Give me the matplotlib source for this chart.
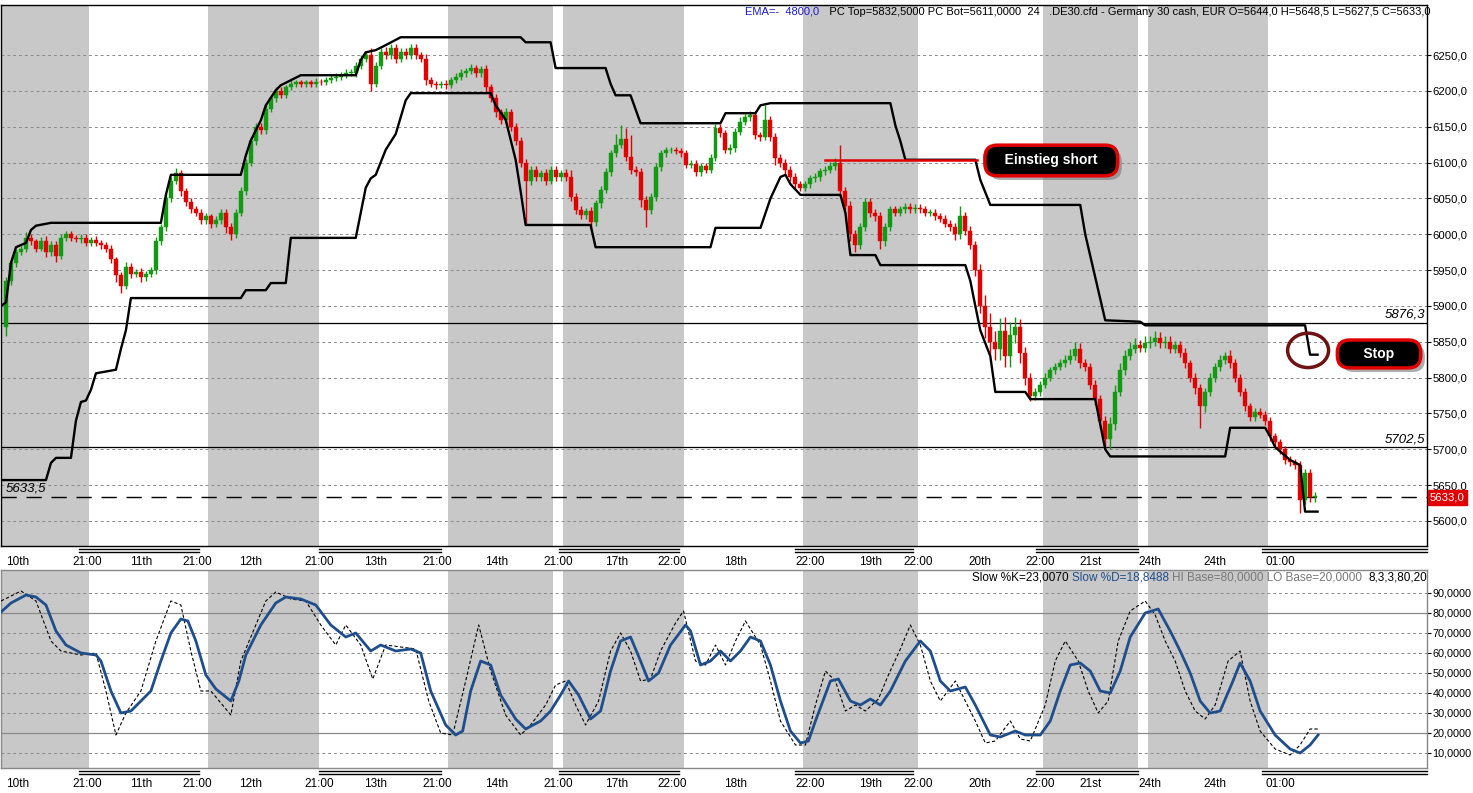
import matplotlib
matplotlib.use("Agg")
import matplotlib.pyplot as plt
import matplotlib.transforms as mtransforms
import matplotlib.patheffects as pe
from matplotlib.patches import Ellipse
import numpy as np

plt.rcParams['font.family'] = ['Liberation Sans', 'DejaVu Sans']

# ---------------- data ----------------
first_open = 5870
closes = [
    5935, 5960, 5975, 5980, 5995, 5990, 5980, 5990, 5975, 5985, 5970, 5995, 6000, 5995, 5993, 5995, 5988, 5992, 5988, 5985,
    5980, 5965, 5943, 5928, 5955, 5945, 5948, 5940, 5945, 5950, 5990, 6010, 6050, 6075, 6085, 6060, 6045, 6035, 6030, 6020,
    6025, 6015, 6020, 6030, 6010, 6000, 6030, 6060, 6100, 6130, 6150, 6145, 6175, 6190, 6200, 6195, 6205, 6210, 6212, 6210,
    6212, 6210, 6213, 6212, 6215, 6218, 6220, 6222, 6225, 6225, 6235, 6245, 6250, 6210, 6235, 6255, 6250, 6260, 6245, 6255,
    6250, 6260, 6250, 6245, 6215, 6210, 6208, 6210, 6208, 6215, 6220, 6225, 6228, 6232, 6225, 6230, 6205, 6190, 6170, 6160,
    6170, 6150, 6130, 6100, 6075, 6090, 6080, 6085, 6075, 6090, 6080, 6085, 6080, 6052, 6034, 6027, 6032, 6017, 6043, 6062,
    6087, 6113, 6125, 6133, 6108, 6090, 6087, 6048, 6034, 6052, 6094, 6113, 6117, 6118, 6116, 6113, 6097, 6098, 6087, 6095,
    6090, 6107, 6148, 6141, 6118, 6120, 6143, 6157, 6163, 6166, 6138, 6136, 6160, 6136, 6107, 6100, 6090, 6080, 6070, 6065,
    6070, 6078, 6080, 6088, 6090, 6095, 6100, 6060, 6040, 6000, 5985, 6010, 6045, 6030, 6025, 5990, 6010, 6035, 6030, 6035,
    6038, 6035, 6037, 6035, 6030, 6030, 6025, 6022, 6015, 6010, 6000, 6025, 6005, 5985, 5950, 5900, 5870, 5850, 5840, 5865,
    5830, 5860, 5870, 5835, 5800, 5775, 5780, 5790, 5800, 5810, 5815, 5820, 5825, 5830, 5840, 5820, 5815, 5790, 5770, 5740,
    5715, 5735, 5780, 5810, 5830, 5840, 5845, 5842, 5848, 5850, 5855, 5848, 5850, 5840, 5845, 5835, 5820, 5800, 5785, 5760,
    5780, 5800, 5815, 5825, 5830, 5820, 5800, 5780, 5760, 5745, 5752, 5748, 5740, 5718, 5710, 5700, 5685, 5682, 5678, 5629,
    5667, 5633, 5633,
]
wick_up = [
    5, 6, 5, 4, 8, 5, 4, 6, 8, 5, 5, 6, 5, 4, 4, 5, 6, 4, 5, 4,
    4, 5, 4, 5, 6, 5, 4, 5, 4, 5, 6, 5, 6, 5, 8, 5, 4, 5, 4, 5,
    5, 4, 6, 5, 5, 6, 5, 6, 5, 6, 5, 6, 5, 4, 5, 6, 4, 5, 4, 4,
    4, 4, 5, 4, 4, 4, 5, 4, 5, 5, 6, 5, 6, 10, 6, 5, 6, 6, 5, 5,
    5, 6, 5, 5, 6, 5, 4, 4, 5, 4, 5, 5, 4, 5, 4, 5, 6, 5, 6, 5,
    6, 5, 5, 6, 5, 6, 5, 5, 6, 5, 5, 5, 6, 10, 5, 5, 5, 6, 5, 6,
    6, 5, 15, 19, 15, 30, 5, 5, 5, 6, 5, 5, 5, 4, 4, 5, 5, 5, 5, 5,
    5, 5, 6, 6, 5, 6, 5, 6, 5, 6, 6, 5, 20, 5, 5, 5, 5, 5, 5, 5,
    5, 5, 5, 5, 5, 6, 6, 24, 6, 6, 6, 6, 6, 5, 5, 6, 6, 5, 5, 5,
    5, 5, 5, 5, 5, 5, 5, 5, 5, 5, 6, 15, 6, 6, 6, 8, 15, 20, 15, 18,
    20, 18, 15, 12, 8, 6, 6, 5, 6, 5, 5, 6, 6, 10, 10, 8, 6, 6, 6, 6,
    6, 10, 10, 10, 8, 10, 10, 8, 10, 8, 10, 8, 8, 8, 6, 6, 6, 5, 6, 6,
    6, 6, 6, 6, 6, 8, 6, 5, 6, 5, 5, 5, 5, 5, 5, 5, 5, 5, 5, 5,
    6, 5, 8,
]
wick_dn = [
    12, 6, 5, 4, 5, 5, 5, 4, 6, 5, 8, 4, 5, 4, 4, 5, 4, 5, 5, 6,
    5, 5, 10, 10, 5, 6, 5, 6, 5, 5, 5, 5, 6, 5, 5, 6, 5, 5, 5, 5,
    5, 6, 5, 5, 8, 8, 5, 5, 5, 5, 6, 5, 5, 5, 5, 5, 5, 4, 4, 5,
    4, 4, 4, 4, 4, 4, 4, 4, 4, 4, 5, 5, 5, 10, 5, 5, 5, 5, 6, 5,
    5, 5, 6, 5, 6, 5, 5, 4, 5, 4, 4, 4, 5, 4, 5, 5, 6, 5, 6, 6,
    6, 6, 6, 6, 60, 6, 6, 5, 6, 5, 5, 5, 6, 6, 6, 6, 5, 10, 6, 6,
    5, 5, 5, 5, 6, 6, 6, 10, 24, 6, 5, 5, 5, 4, 4, 5, 5, 5, 5, 5,
    5, 5, 5, 5, 5, 6, 5, 5, 5, 5, 5, 6, 5, 6, 10, 6, 6, 5, 5, 5,
    5, 5, 5, 5, 5, 5, 5, 6, 6, 10, 10, 6, 6, 6, 6, 10, 6, 5, 5, 5,
    5, 5, 5, 5, 5, 5, 5, 5, 5, 5, 8, 6, 6, 6, 8, 10, 15, 18, 15, 15,
    15, 15, 12, 15, 10, 8, 6, 5, 5, 5, 5, 5, 5, 6, 6, 6, 6, 6, 8, 10,
    15, 15, 8, 6, 6, 6, 6, 6, 6, 6, 6, 6, 6, 6, 6, 6, 6, 6, 8, 30,
    8, 6, 6, 6, 6, 6, 6, 6, 6, 6, 5, 5, 6, 6, 6, 6, 6, 6, 6, 18,
    5, 6, 6,
]

# price channel (24) upper / lower, keyframes (bar index, price)
pc_top_idx = [-1, 0, 1, 2, 4, 5, 6, 9, 31, 32, 33, 47, 48, 49, 51, 52, 54, 55, 57, 59, 70, 71, 72, 74, 76, 79,
              103, 104, 109, 110, 120, 121, 122, 125, 127, 143, 144, 150, 151, 153, 177, 178, 179, 180, 194, 195,
              197, 215, 216, 218, 220, 227, 228, 260, 261, 262.5]
pc_top_val = [5900, 5905, 5960, 5982, 5988, 6006, 6012, 6016, 6016, 6055, 6083, 6083, 6110, 6131, 6159, 6180, 6201,
              6208, 6215, 6222, 6222, 6243, 6254, 6257, 6264, 6275, 6275, 6268, 6268, 6232, 6232, 6210, 6194, 6194,
              6155, 6155, 6169, 6169, 6180, 6183, 6183, 6152, 6130, 6104, 6104, 6076, 6041, 6041, 6000, 5940, 5880,
              5878, 5873, 5873, 5832, 5832]
pc_bot_idx = [-1, 8, 9, 10, 13, 14, 15, 16, 17, 18, 22, 23, 24, 25, 47, 48, 52, 53, 56, 57, 70, 71, 72, 73, 74, 76,
              78, 80, 81, 97, 98, 100, 102, 103, 104, 117, 118, 141, 142, 151, 153, 155, 156, 157, 159, 167, 168,
              169, 174, 175, 192, 193, 194, 195, 197, 198, 204, 205, 218, 219, 220, 221, 244, 245, 252, 253, 254,
              257, 259, 260, 262.5]
pc_bot_val = [5657, 5657, 5681, 5688, 5688, 5740, 5766, 5768, 5783, 5806, 5811, 5840, 5866, 5911, 5911, 5922, 5922,
              5932, 5932, 5995, 5995, 6030, 6065, 6078, 6083, 6118, 6140, 6187, 6197, 6197, 6180, 6160, 6104, 6060,
              6013, 6013, 5982, 5982, 6009, 6009, 6050, 6080, 6083, 6070, 6055, 6055, 6030, 5971, 5971, 5957, 5957,
              5935, 5900, 5866, 5830, 5780, 5780, 5770, 5770, 5735, 5700, 5690, 5690, 5730, 5730, 5718, 5703, 5685,
              5678, 5613, 5613]

# slow stochastic
stoch_d_idx = [-1, 1, 4, 6, 8, 10, 12, 15, 18, 19, 21, 23, 25, 27, 29, 31, 33, 35, 36.4, 38, 40, 42, 45, 46.6, 48,
               51, 54, 56, 59, 62, 65, 68, 70, 73, 75, 78, 81, 83, 85, 88, 90, 91.4, 93, 95, 97, 99, 102, 104, 107,
               109, 111, 112.6, 114.6, 117, 119, 121, 123, 125, 127, 128.6, 130.6, 133, 136, 137, 139, 141, 143, 145,
               147, 149, 151, 153, 155, 157, 159, 160.6, 162, 165, 166.6, 169, 171, 173, 175, 177, 180, 183, 185, 187,
               189, 192, 194, 197, 199, 202, 204, 207, 209, 211, 213, 215, 217, 219, 221, 223, 225, 228, 230.6, 233,
               235, 237, 239, 241, 243, 245.4, 247, 249, 251, 254, 257, 259, 261, 262.6]
stoch_d_val = [80.5, 85, 89, 88, 84, 71, 64, 60, 59, 56, 41, 30, 31, 36, 41, 56, 70, 77, 76, 66, 49, 42, 36, 46, 59,
               74, 85, 88, 87, 84, 74, 68, 70, 61, 64, 61, 62, 60, 41, 24, 19, 21, 41, 56, 54, 39, 27, 22, 26, 31, 39,
               46, 39, 27, 31, 51, 66, 68, 56, 46, 50, 64, 74, 71, 54, 56, 61, 56, 61, 68, 66, 54, 36, 21, 15, 16, 26,
               46, 47, 36, 34, 37, 34, 41, 56, 66, 61, 46, 41, 43, 34, 19, 18, 21, 19, 19, 26, 41, 54, 55, 51, 41, 40,
               51, 68, 80, 82, 71, 61, 50, 36, 30, 31, 45, 55, 46, 31, 19, 12, 10, 14, 19]
stoch_k_idx = [-1, 3, 6, 9, 11, 15, 18, 20, 22, 24, 27, 30, 33, 35, 37, 39, 41, 45, 47, 50, 52, 54, 57, 60, 63, 66,
               68, 71, 73.4, 76, 79, 82, 84.6, 87, 89.4, 92, 94.6, 97, 100, 103, 105, 108, 110, 112, 114, 116, 118.6,
               121, 123, 125, 127, 129, 131, 134, 135.6, 138, 140, 142, 144, 146, 148, 151, 153, 155, 158, 160, 162,
               164, 166, 168, 170, 172, 174.6, 176.6, 179, 181, 183, 185, 187, 190, 192, 194, 196, 198, 201, 203, 205,
               208, 210, 212, 214.6, 216.6, 218.6, 220.6, 222.6, 225, 228, 230, 232, 234, 236, 238, 240, 242, 244.6,
               247, 249, 251, 254, 257, 259, 261, 262.6]
stoch_k_val = [86, 91, 86, 66, 61, 59, 60, 41, 19, 30, 41, 66, 86, 84, 61, 41, 41, 29, 56, 74, 86, 90.5, 87, 86, 74,
               64, 74, 64, 47, 64, 63, 62, 36, 20, 19, 46, 74, 51, 29, 19, 24, 34, 44, 46, 34, 24, 36, 61, 70, 61, 46,
               47, 61, 75, 81, 56, 54, 64, 54, 66, 76, 64, 46, 26, 14, 14, 34, 51, 46, 31, 34, 31, 37, 49, 62, 74, 64,
               46, 36, 46, 36, 26, 15, 16, 26, 17, 16, 34, 56, 66, 56, 41, 30, 36, 66, 81, 86, 79, 66, 56, 41, 31, 27,
               34, 56, 61, 36, 21, 12, 9, 14, 22, 22]

# sessions (shaded) and axis markers, in bar index units
session_start = [-1, 40.4, 88.4, 111.4, 159.6, 207.6, 228.6]
session_end = [16.6, 62.6, 109.4, 135.6, 182.6, 226.6, 252.6]
marker_start = [14.6, 62.6, 110.6, 158.0, 206.2, 251.4]
marker_end = [38.6, 87.0, 134.6, 181.6, 226.6, 284.4]

xtick_idx = [2.4, 16.2, 27, 38.2, 49, 62.6, 74, 86.4, 98.2, 110.6, 122.2, 133.4, 146, 161, 173, 182.6, 195, 207,
             217, 229, 242, 255]
xtick_lab = ['10th', '21:00', '11th', '21:00', '12th', '21:00', '13th', '21:00', '14th', '21:00', '17th', '22:00',
             '18th', '22:00', '19th', '22:00', '20th', '22:00', '21st', '24th', '24th', '01:00']

price_ticks = [5600, 5650, 5700, 5750, 5800, 5850, 5900, 5950, 6000, 6050, 6100, 6150, 6200, 6250]
stoch_ticks = [10, 20, 30, 40, 50, 60, 70, 80, 90]

level_hi = 5876.3
level_lo = 5702.5
last_price = 5633.0
pc_start_label = 5633.5
entry_price = 6103
entry_from, entry_to = 164, 194.4
stop_idx, stop_price = 260.6, 5838

header_blue = 'EMA=-  4800,0'
header_black = '   PC Top=5832,5000 PC Bot=5611,0000  24   .DE30.cfd - Germany 30 cash, EUR O=5644,0 H=5648,5 L=5627,5 C=5633,0'
stoch_header = [('Slow %K=23,0070 ', 'black'), ('Slow %D=18,8488 ', '#1f4e8c'),
                ('HI Base=80,0000 LO Base=20,0000  ', '#777777'), ('8,3,3,80,20', 'black')]

# ---------------- figure ----------------
W, H = 1473, 793
fig = plt.figure(figsize=(W / 100, H / 100), dpi=100)
fig.patch.set_facecolor('white')


def rect(x0, y0, x1, y1):
    return [x0 / W, 1 - y1 / H, (x1 - x0) / W, (y1 - y0) / H]


ax1 = fig.add_axes(rect(1, 5, 1427, 546))
ax2 = fig.add_axes(rect(1, 570, 1427, 768))

XL = (-1, 284.4)
GREEN = '#139a13'
RED = '#e00000'
BAND = '#c8c8c8'

for ax in (ax1, ax2):
    ax.set_xlim(*XL)
    for s, e in zip(session_start, session_end):
        ax.axvspan(s, e, color=BAND, lw=0, zorder=0)
    ax.yaxis.tick_right()
    ax.tick_params(axis='y', direction='out', length=3, width=0.8, pad=1, labelsize=8.2)
    ax.set_xticks(xtick_idx)
    ax.set_xticklabels(xtick_lab)
    ax.tick_params(axis='x', length=0, pad=7, labelsize=8.5)
    ax.grid(axis='y', color='#8a8a8a', lw=0.7, ls=(0, (3, 3)), zorder=1)
    ax.set_axisbelow(True)
    trans = mtransforms.blended_transform_factory(ax.transData, ax.transAxes)
    hpx = ax.get_position().height * H
    for s, e in zip(marker_start, marker_end):
        for off in (3, 6):
            ax.plot([s, e], [-off / hpx, -off / hpx], transform=trans, clip_on=False, color='black', lw=1.0)

# ---- main price panel ----
ax1.set_ylim(5565, 6320)
ax1.set_yticks(price_ticks)
ax1.set_yticklabels([f"{v:.1f}".replace('.', ',') for v in price_ticks])
for sp in ax1.spines.values():
    sp.set_color('black')
    sp.set_linewidth(1)

c = np.array(closes, dtype=float)
o = np.concatenate([[first_open], c[:-1]])
idx = np.arange(len(c))
hi = np.maximum(o, c) + np.array(wick_up)
lo = np.minimum(o, c) - np.array(wick_dn)
cols = np.where(c >= o, GREEN, RED)
body_lo = np.minimum(o, c)
body_h = np.maximum(np.abs(c - o), 1.2)
ax1.vlines(idx, lo, hi, colors=cols, lw=1.0, zorder=3)
ax1.bar(idx, body_h, bottom=body_lo, width=0.8, color=cols, edgecolor=cols, lw=0.3, zorder=3)

ax1.plot(pc_top_idx, pc_top_val, color='black', lw=1.7, zorder=4)
ax1.plot(pc_bot_idx, pc_bot_val, color='black', lw=1.7, zorder=4)

ax1.axhline(level_hi, color='black', lw=0.9, zorder=2)
ax1.axhline(level_lo, color='black', lw=0.9, zorder=2)
ax1.axhline(last_price, color='black', lw=1.0, ls=(0, (11, 7)), zorder=2)
ax1.text(284.0, level_hi + 3, f"{level_hi:.1f}".replace('.', ','), ha='right', va='bottom', fontsize=9.5, style='italic')
ax1.text(284.0, level_lo + 3, f"{level_lo:.1f}".replace('.', ','), ha='right', va='bottom', fontsize=9.5, style='italic')
ax1.text(0.0, pc_start_label + 4, f"{pc_start_label:.1f}".replace('.', ','), ha='left', va='bottom', fontsize=9.5,
         style='italic')

# last price tag on the axis
ax1.text(1.002, last_price, f"{last_price:.1f}".replace('.', ','),
         transform=mtransforms.blended_transform_factory(ax1.transAxes, ax1.transData),
         ha='left', va='center', fontsize=8.2, color='white',
         bbox=dict(boxstyle='square,pad=0.2', fc=RED, ec=RED), clip_on=False, zorder=6)

# annotations
ax1.plot([entry_from, entry_to], [entry_price, entry_price], color=RED, lw=1.8, zorder=5)
shadow = [pe.withSimplePatchShadow(offset=(3, -3), shadow_rgbFace='#777777', alpha=0.6)]
t1 = ax1.text(209.2, entry_price, '   Einstieg short   ', ha='center', va='center', color='white', fontweight='bold',
              fontsize=10, zorder=7,
              bbox=dict(boxstyle='round,pad=0.6,rounding_size=0.9', fc='black', ec=RED, lw=2.5))
t1.get_bbox_patch().set_path_effects(shadow)
t2 = ax1.text(274.8, 5833, '     Stop     ', ha='center', va='center', color='white', fontweight='bold',
              fontsize=10, zorder=7,
              bbox=dict(boxstyle='round,pad=0.5,rounding_size=0.9', fc='black', ec=RED, lw=2.5))
t2.get_bbox_patch().set_path_effects(shadow)
ax1.add_patch(Ellipse((stop_idx, stop_price), width=8.2, height=48, fill=False, ec='#6e1212', lw=2.5, zorder=7))

# header texts (black part right-aligned, blue part chained to its left)
hdr = fig.text(1430 / W, 1 - 12 / H, header_black, ha='right', va='center', fontsize=8, color='black')
ax1.annotate(header_blue, xy=(0, 0), xycoords=hdr, ha='right', va='bottom', fontsize=8, color='#1a1acc',
             annotation_clip=False)

# ---- stochastic panel ----
ax2.set_ylim(2.5, 101.5)
ax2.set_yticks(stoch_ticks)
ax2.set_yticklabels([f"{v:.4f}".replace('.', ',') for v in stoch_ticks])
ax2.tick_params(axis='y', labelsize=7.8)
for sp in ax2.spines.values():
    sp.set_color('#888888')
    sp.set_linewidth(1)
ax2.axhline(80, color='#8a8a8a', lw=0.9, zorder=1.5)
ax2.axhline(20, color='#8a8a8a', lw=0.9, zorder=1.5)
ax2.plot(stoch_k_idx, stoch_k_val, color='black', lw=0.8, ls=(0, (3, 2)), zorder=3)
ax2.plot(stoch_d_idx, stoch_d_val, color='#1f4e8c', lw=2.0, zorder=4)

anchor = fig.text(1427 / W, 1 - 578 / H, stoch_header[-1][0], ha='right', va='center', fontsize=8.5,
                  color=stoch_header[-1][1])
for txt, col in reversed(stoch_header[:-1]):
    anchor = ax2.annotate(txt, xy=(0, 0), xycoords=anchor, ha='right', va='bottom', fontsize=8.5, color=col,
                          annotation_clip=False)

fig.savefig('out.png', dpi=100, facecolor='white')
